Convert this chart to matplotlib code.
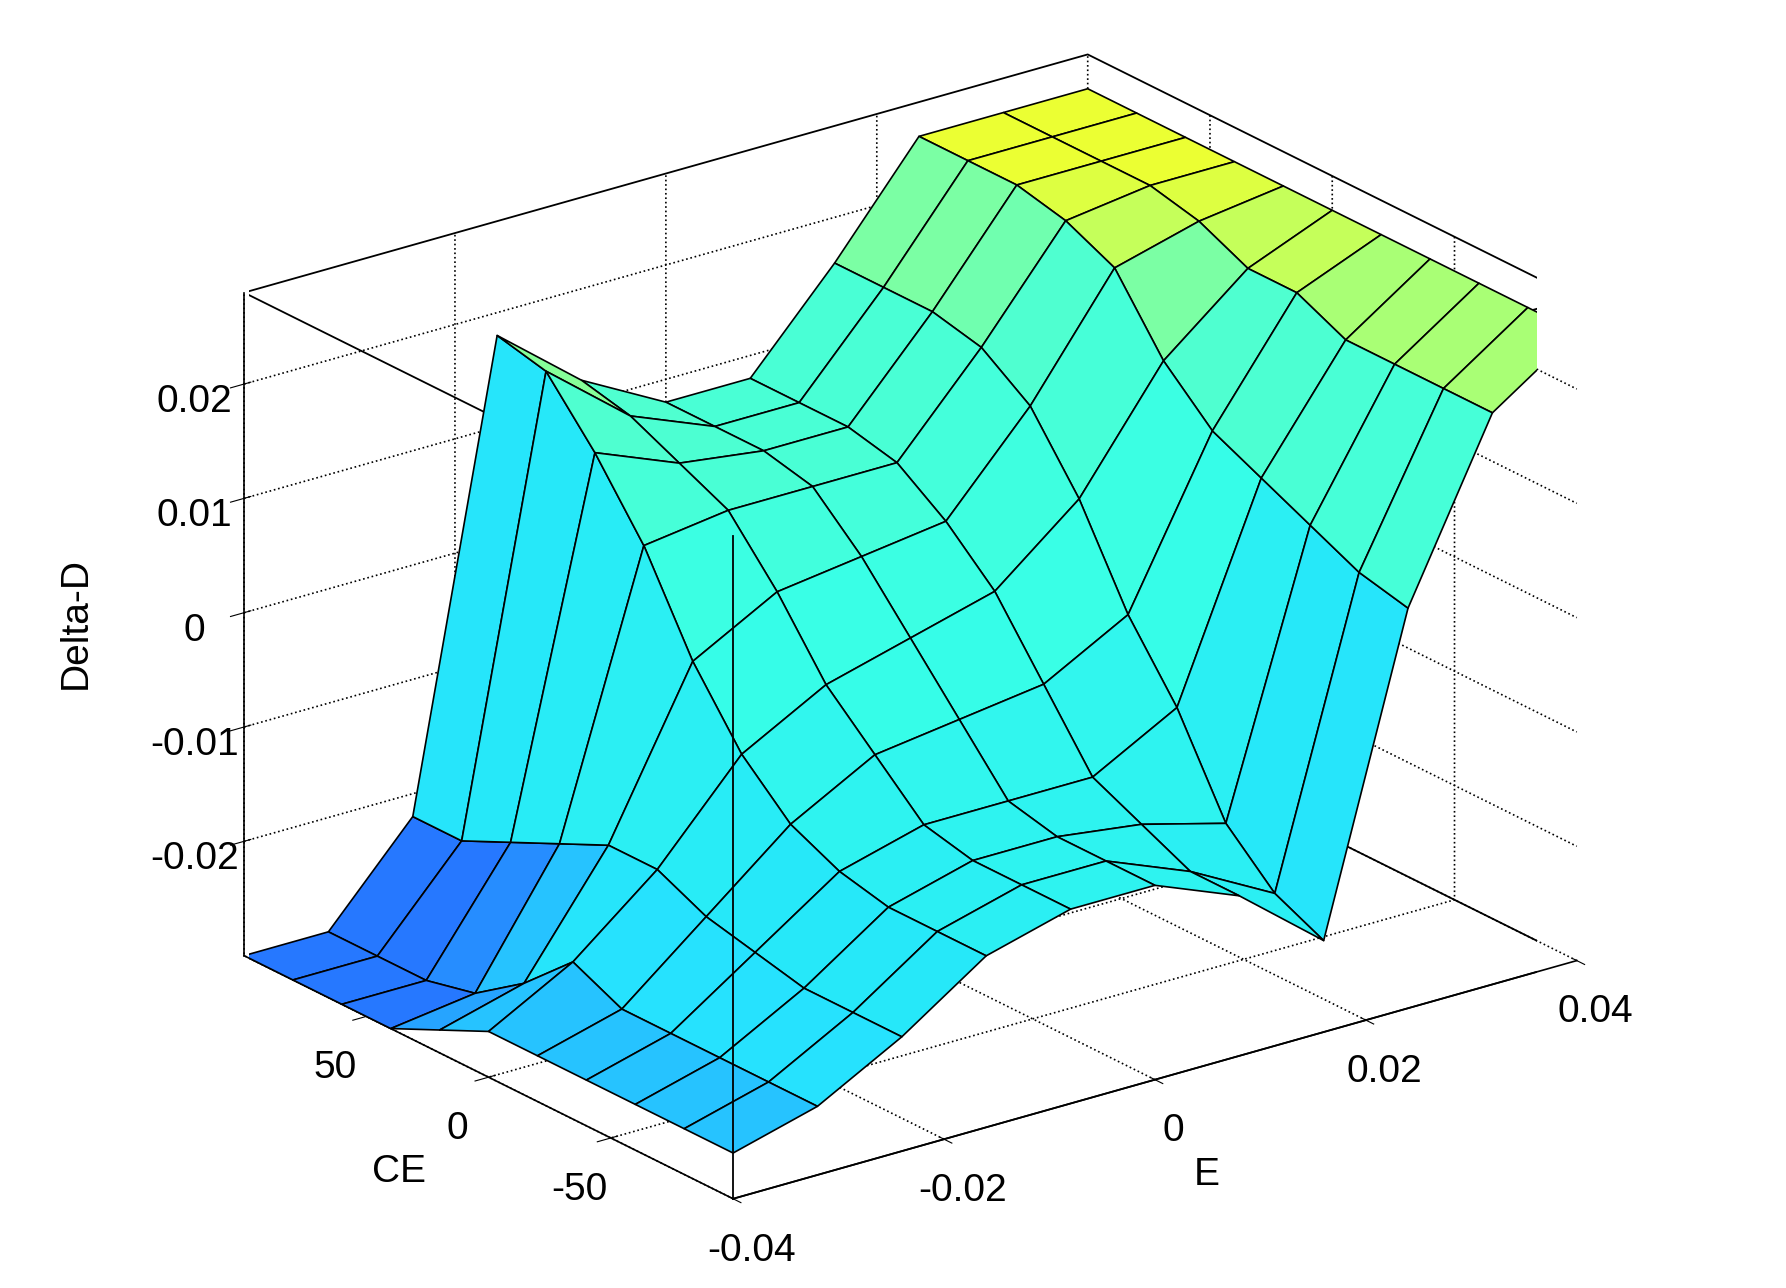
import numpy as np
import matplotlib.pyplot as plt

plt.rcParams['font.family'] = ['Liberation Sans', 'DejaVu Sans']

# fuzzy output surface
e_vals = [-0.04, -0.032, -0.024, -0.016, -0.008, 0.0, 0.008, 0.016, 0.024, 0.032, 0.04]
ce_vals = [-100, -80, -60, -40, -20, 0, 20, 40, 60, 80, 100]

# rows follow ce_vals, columns follow e_vals
delta_d = [
    [-0.026, -0.024, -0.020, -0.015, -0.013, -0.013, -0.016, -0.022, 0.005, 0.020, 0.025],
    [-0.026, -0.024, -0.020, -0.015, -0.013, -0.013, -0.016, -0.020, 0.006, 0.020, 0.025],
    [-0.026, -0.024, -0.020, -0.015, -0.013, -0.013, -0.014, -0.016, 0.008, 0.020, 0.025],
    [-0.026, -0.024, -0.019, -0.014, -0.012, -0.012, -0.012, -0.008, 0.010, 0.020, 0.025],
    [-0.026, -0.024, -0.018, -0.012, -0.008, -0.007, -0.006, -0.002, 0.012, 0.022, 0.025],
    [-0.026, -0.022, -0.016, -0.008, -0.004, -0.002, 0.000, 0.006, 0.016, 0.022, 0.025],
    [-0.028, -0.026, -0.016, -0.002, 0.002, 0.003, 0.004, 0.012, 0.022, 0.024, 0.025],
    [-0.030, -0.029, -0.018, 0.006, 0.007, 0.007, 0.007, 0.015, 0.024, 0.025, 0.025],
    [-0.030, -0.030, -0.020, 0.012, 0.009, 0.008, 0.008, 0.016, 0.025, 0.025, 0.025],
    [-0.030, -0.030, -0.022, 0.017, 0.011, 0.008, 0.008, 0.016, 0.025, 0.025, 0.025],
    [-0.030, -0.030, -0.022, 0.018, 0.012, 0.008, 0.008, 0.016, 0.025, 0.025, 0.025],
]

E, CE = np.meshgrid(e_vals, ce_vals)
Z = np.array(delta_d)

fig = plt.figure(figsize=(17.86, 12.88), dpi=100)
fig.patch.set_facecolor('white')
ax = fig.add_axes([0.0, 0.0, 1.0, 1.0], projection='3d', proj_type='ortho')

# colour lookup roughly matching the old matlab jet look of the figure
cidx = np.interp(Z, [-0.03, -0.028, -0.024, 0.012, 0.018, 0.025],
                 [0.22, 0.27, 0.34, 0.41, 0.50, 0.63])
fc = plt.cm.jet(cidx)
fc[..., :3] = 0.85 * fc[..., :3] + 0.15  # slightly washed out like the jpeg
ax.plot_surface(E, CE, Z, facecolors=fc, edgecolor='black', linewidth=1.2,
                shade=False, rstride=1, cstride=1)

x0, x1 = -0.04, 0.04
y0, y1 = -100, 100
z0, z1 = -0.03, 0.028
# box edges like matlab's "box on"
for xs, ys in [((x0, x0), (y0, y0)), ((x1, x1), (y0, y0)), ((x0, x0), (y1, y1))]:
    ax.plot(xs, ys, (z0, z1), color='black', lw=1.3, zorder=20)
ax.plot((x0, x1, x1, x0, x0), (y0, y0, y1, y1, y0), (z1,) * 5, color='black', lw=1.3)
ax.plot((x0, x1, x1), (y0, y0, y1), (z0,) * 3, color='black', lw=1.3)

ax.set_xlim(x0, x1)
ax.set_ylim(y0, y1)
ax.set_zlim(z0, z1)
ax.set_xticks([-0.04, -0.02, 0, 0.02, 0.04])
ax.set_xticklabels(['-0.04', '-0.02', '0', '0.02', '0.04'])
ax.set_yticks([-50, 0, 50])
ax.set_yticklabels(['-50', '0', '50'])
ax.set_zticks([-0.02, -0.01, 0, 0.01, 0.02])
ax.set_zticklabels(['-0.02', '-0.01', '0', '0.01', '0.02'])

fs = 28
ax.set_xlabel('E', fontsize=fs, labelpad=30)
ax.set_ylabel('CE', fontsize=fs, labelpad=30)
ax.set_zlabel('Delta-D', fontsize=fs, labelpad=40)
ax.tick_params(labelsize=fs, pad=10)

for axis in (ax.xaxis, ax.yaxis, ax.zaxis):
    axis.set_pane_color((1, 1, 1, 0))
    axis.pane.set_edgecolor('black')
    axis._axinfo['grid']['linestyle'] = ':'
    axis._axinfo['grid']['color'] = 'black'
    axis._axinfo['grid']['linewidth'] = 1.2
    axis.line.set_linewidth(1.2)

ax.view_init(elev=22, azim=-127)
ax.set_box_aspect((1.3, 1.0, 0.88), zoom=1.14)

fig.savefig('out.png', dpi=100)
